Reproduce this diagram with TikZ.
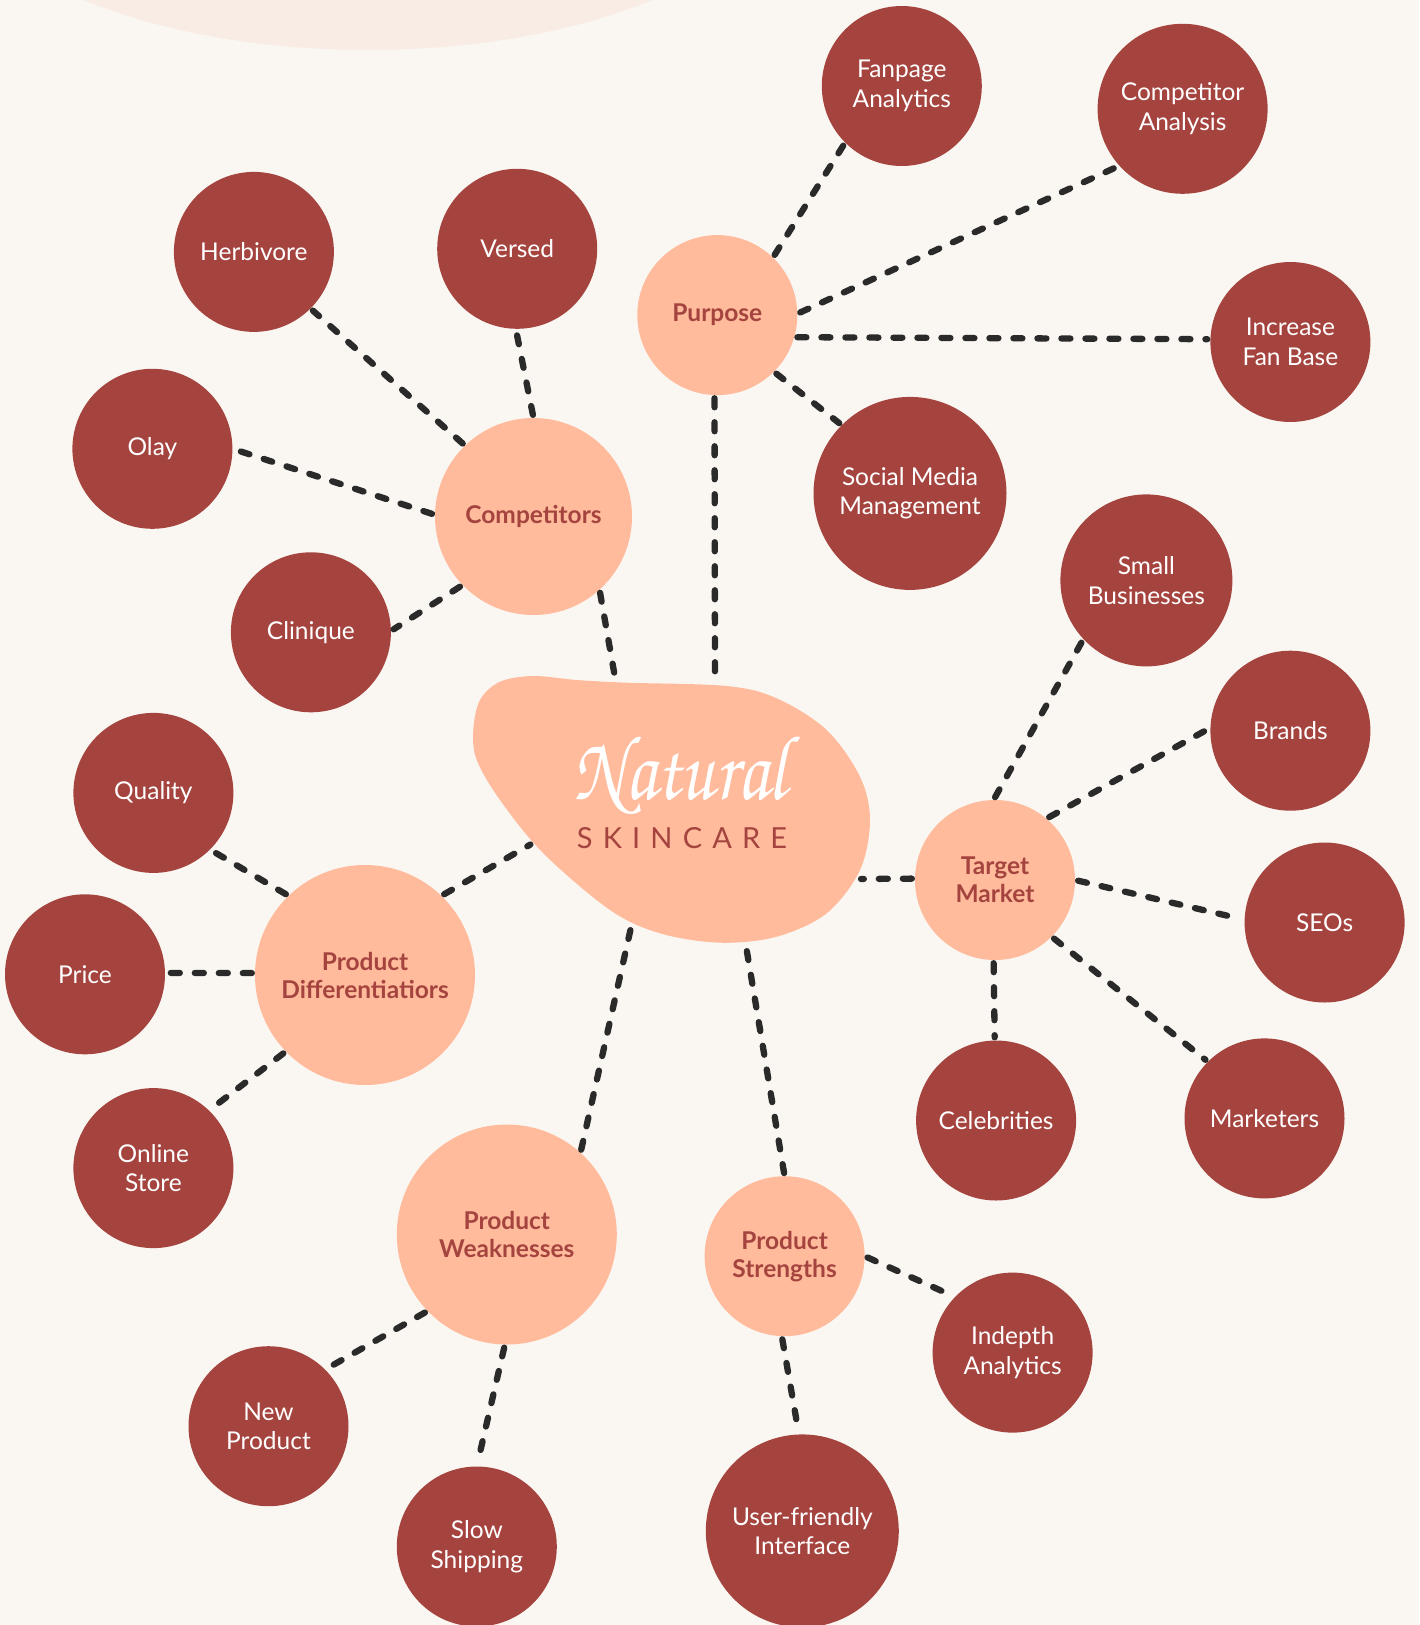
\documentclass[tikz,border=0pt]{standalone}
\usepackage[T1]{fontenc}
\usepackage{fontspec}
\setmainfont{Lato}
\definecolor{bgc}{HTML}{FAF7F2}
\definecolor{arcc}{HTML}{F9ECE4}
\definecolor{wine}{HTML}{A5443F}
\definecolor{peach}{HTML}{FFBB9C}
\definecolor{ink}{HTML}{2A2A2A}
\newcommand\leaffont{\fontsize{24.5}{29.5}\selectfont}
\newcommand\hubfont{\fontsize{24.5}{28}\selectfont\bfseries}
\tikzset{
  leaf/.style={circle, fill=wine, text=white, minimum size=#1, inner sep=0pt, align=center, font=\leaffont},
  leaf/.default=160pt,
  hub/.style={circle, fill=peach, text=wine, minimum size=#1, inner sep=0pt, align=center, font=\hubfont},
  hub/.default=160pt,
  link/.style={draw=ink, line width=6.3pt, line cap=round, dash pattern=on 9pt off 15pt, shorten <=3pt, shorten >=3pt},
}
\begin{document}
\begin{tikzpicture}[x=1pt,y=-1pt]
\useasboundingbox (0,0) rectangle (1419,1625);
\fill[bgc] (0,0) rectangle (1419,1625);
\begin{scope}
\clip (0,0) rectangle (1419,1625);
\fill[arcc] (368,-150) ellipse [x radius=430pt, y radius=200pt];
\end{scope}

% central blob
\fill[peach] plot[smooth cycle, tension=0.55] coordinates {
 (473.3,730) (480,700) (500,681.7) (533.3,676) (576.7,680) (626.7,682.7)
 (726.7,686) (776.7,698.3) (826.7,730) (860,776.7) (870,820) (860,870)
 (826.7,913.3) (776.7,936.7) (720,942.7) (660,933.3) (610,910)
 (543.3,853.3) (500,800) (476.7,760)};
\node[text=white, inner sep=0pt] (natural) at (680,775)
  {\scalebox{0.81}[1]{\usefont{T1}{pzc}{mb}{it}\fontsize{92}{92}\selectfont Natural}};
\node[text=wine, inner sep=0pt] (skincare) at (682,838)
  {\fontsize{29}{29}\selectfont\addfontfeature{LetterSpace=35}SKINCARE};

\coordinate (bP) at (715,683);
\coordinate (bC) at (616,683);
\coordinate (bT) at (858,879);
\coordinate (bD) at (533,843);
\coordinate (bW) at (632,923);
\coordinate (bS) at (746,946);

% hubs
\node[hub] (purpose) at (717.3,315.1) {Purpose};
\node[hub=197pt] (competitors) at (533.5,516.5) {Competitors};
\node[hub] (target) at (995,880) {Target\\Market};
\node[hub=220pt] (diff) at (365,975) {Product\\Differentiatiors};
\node[hub=220pt] (weak) at (506.8,1234.5) {Product\\Weaknesses};
\node[hub] (strong) at (784.6,1256.2) {Product\\Strengths};

% leaves
\node[leaf] (fanpage) at (901.8,86) {Fanpage\\Analytics};
\node[leaf=170pt] (companal) at (1182.6,108.8) {Competitor\\Analysis};
\node[leaf] (fanbase) at (1290.4,342) {Increase\\Fan Base};
\node[leaf=193pt] (social) at (910,493.4) {Social Media\\Management};
\node[leaf] (herbivore) at (253.9,251.9) {Herbivore};
\node[leaf] (versed) at (517.2,248.8) {Versed};
\node[leaf] (olay) at (152.4,448.8) {Olay};
\node[leaf] (clinique) at (310.9,632.3) {Clinique};
\node[leaf=172pt] (smallbiz) at (1146.4,580.4) {Small\\Businesses};
\node[leaf] (brands) at (1290.4,730.7) {Brands};
\node[leaf] (seos) at (1324.6,922.5) {SEOs};
\node[leaf] (celebs) at (996.1,1120.5) {Celebrities};
\node[leaf] (marketers) at (1264.5,1118.4) {Marketers};
\node[leaf] (quality) at (153.4,792.9) {Quality};
\node[leaf] (price) at (85,974.3) {Price};
\node[leaf] (online) at (153.4,1168.1) {Online\\Store};
\node[leaf] (newprod) at (268.5,1426.2) {New\\Product};
\node[leaf] (slow) at (476.8,1546.5) {Slow\\Shipping};
\node[leaf=193pt] (userfr) at (802.3,1530.9) {User-friendly\\Interface};
\node[leaf] (indepth) at (1012.6,1352.6) {Indepth\\Analytics};

% connectors
\draw[link] (purpose.46.5) -- (fanpage.225);
\draw[link] (purpose.1.5) -- (companal.222.6);
\draw[link] (purpose.-16.7) -- (fanbase.178.7);
\draw[link] (purpose.-45) -- (social.135);
\draw[link] (purpose.268.5) -- (bP);
\draw[link] (competitors.134.6) -- (herbivore.-45);
\draw[link] (competitors.90) -- (versed.269);
\draw[link] (competitors.179.4) -- (olay.0.7);
\draw[link] (competitors.224) -- (clinique.1.5);
\draw[link] (competitors.312.5) -- (bC);
\draw[link] (target.91.5) -- (smallbiz.223);
\draw[link] (target.50.7) -- (brands.178.5);
\draw[link] (target.0.8) -- (seos.178);
\draw[link] (target.269) -- (celebs.91);
\draw[link] (target.-45.5) -- (marketers.135.5);
\draw[link] (target.179) -- (bT);
\draw[link] (diff.134.6) -- (quality.-45.5);
\draw[link] (diff.179) -- (price.1.5);
\draw[link] (diff.224.6) -- (online.46);
\draw[link] (diff.46.9) -- (bD);
\draw[link] (weak.224) -- (newprod.45);
\draw[link] (weak.269) -- (slow.90.7);
\draw[link] (weak.48) -- (bW);
\draw[link] (strong.0.7) -- (indepth.136.4);
\draw[link] (strong.268) -- (userfr.92);
\draw[link] (strong.90.7) -- (bS);
\end{tikzpicture}
\end{document}
